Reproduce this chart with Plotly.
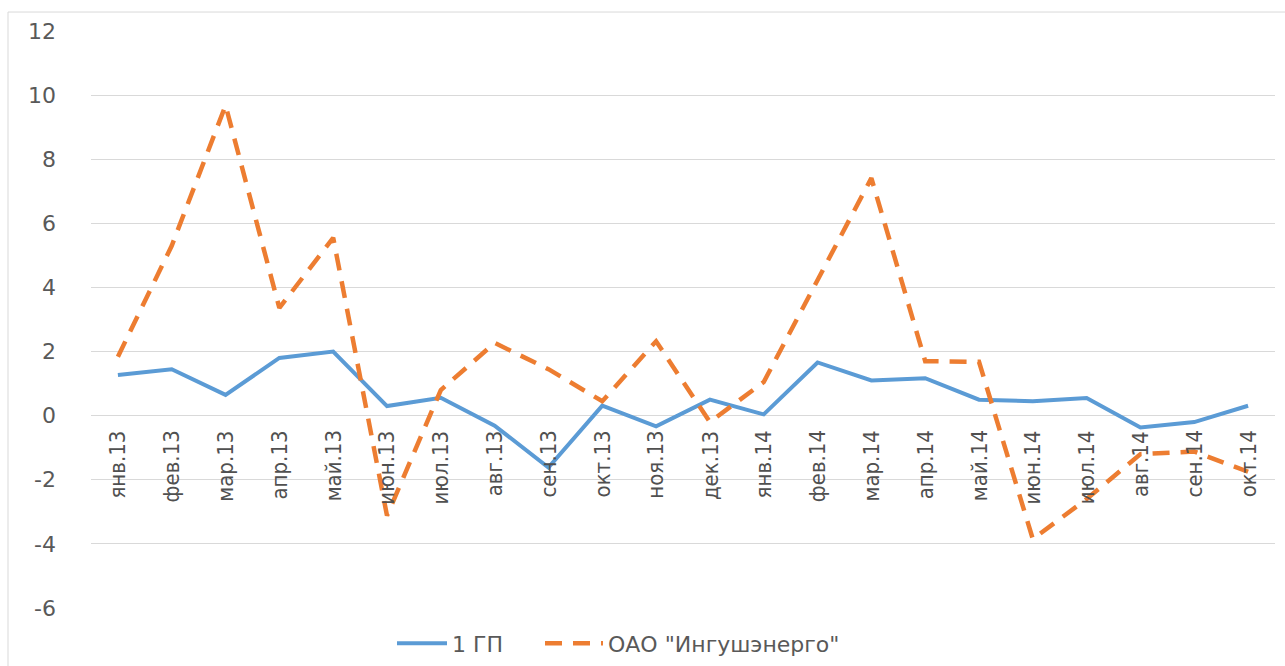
import plotly.graph_objects as go

categories = ["янв.13", "фев.13", "мар.13", "апр.13", "май.13", "июн.13", "июл.13", "авг.13",
              "сен.13", "окт.13", "ноя.13", "дек.13", "янв.14", "фев.14", "мар.14", "апр.14",
              "май.14", "июн.14", "июл.14", "авг.14", "сен.14", "окт.14"]
gp1 = [1.27, 1.45, 0.65, 1.80, 2.00, 0.30, 0.56, -0.31, -1.62, 0.31, -0.33, 0.50,
       0.04, 1.66, 1.10, 1.17, 0.50, 0.45, 0.55, -0.37, -0.20, 0.31]
ingush = [1.84, 5.30, 9.68, 3.36, 5.55, -3.12, 0.80, 2.27, 1.45, 0.45, 2.32, -0.20,
          1.05, 4.20, 7.41, 1.70, 1.68, -3.85, -2.60, -1.20, -1.12, -1.75]
y_ticks = [-6, -4, -2, 0, 2, 4, 6, 8, 10, 12]
y_tick_labels = ["-6", "-4", "-2", "0", "2", "4", "6", "8", "10", "12"]

fig = go.Figure()
fig.add_trace(go.Scatter(x=categories, y=gp1, mode="lines", name="1 ГП",
                         line=dict(color="#5B9BD5", width=4), legend="legend"))
fig.add_trace(go.Scatter(x=categories, y=ingush, mode="lines", name='ОАО "Ингушэнерго"',
                         line=dict(color="#ED7D31", width=4.5, dash="17px,11px"),
                         legend="legend2"))

for c in categories:
    fig.add_annotation(x=c, y=0, xref="x", yref="y", text=c, showarrow=False,
                       textangle=-90, yanchor="top", xanchor="center", yshift=-13,
                       font=dict(family="Liberation Sans Narrow, DejaVu Sans Condensed, Arial",
                                 size=22, color="#505050"))

fig.add_shape(type="rect", xref="paper", yref="paper",
              x0=-0.0701, x1=1.02, y0=-0.12, y1=1.0329,
              line=dict(color="#D9D9D9", width=1), layer="below")

legend_font = dict(family="DejaVu Sans", size=22, color="#595959")
fig.update_layout(
    width=1285, height=666,
    margin=dict(l=91, r=10, t=31, b=58, autoexpand=False),
    plot_bgcolor="white", paper_bgcolor="white",
    showlegend=True,
    legend=dict(orientation="h", x=(392 - 91) / 1184, xanchor="left",
                y=-0.025, yanchor="top", font=legend_font, itemwidth=50),
    legend2=dict(orientation="h", x=(540 - 91) / 1184, xanchor="left",
                 y=-0.025, yanchor="top", font=legend_font, itemwidth=58),
    xaxis=dict(type="category", showticklabels=False, showgrid=False, zeroline=False,
               showline=False, range=[-0.5, len(categories) - 0.5], automargin=False),
    yaxis=dict(range=[-6, 12], tickvals=y_ticks, ticktext=y_tick_labels, showgrid=True,
               gridcolor="#D9D9D9", gridwidth=1, zeroline=True, zerolinecolor="#D9D9D9",
               zerolinewidth=1, showline=False, ticks="", ticklabelstandoff=34,
               automargin=False,
               tickfont=dict(family="DejaVu Sans", size=22, color="#595959")),
)

fig.write_html("out.html", config={"displayModeBar": False},
               post_script="document.body.style.margin='0px';")
